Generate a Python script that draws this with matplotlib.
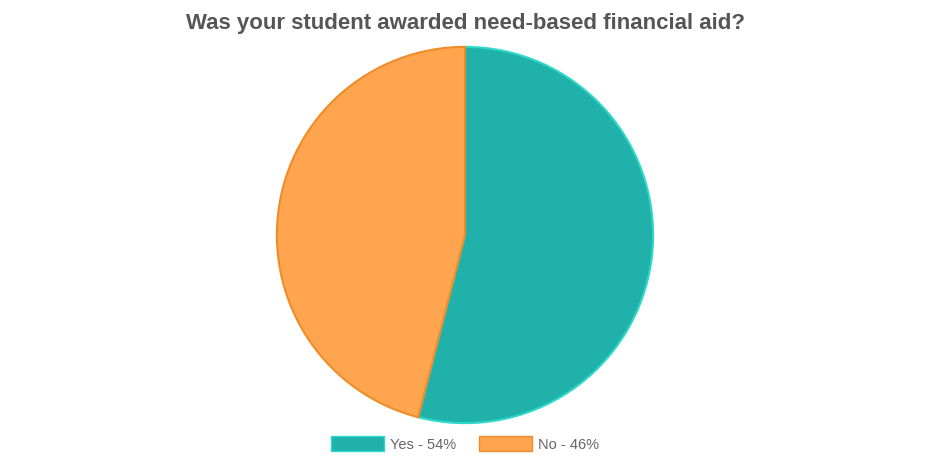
import matplotlib.pyplot as plt
from matplotlib.patches import Patch

plt.rcParams['font.family'] = ['Liberation Sans', 'DejaVu Sans']

labels = ['Yes - 54%', 'No - 46%']
values = [54, 46]
colors = ['#20B2AA', '#FFA54F']
edges = ['#2ED9C9', '#F08C28']

fig = plt.figure(figsize=(9.3, 4.65), dpi=100)
ax = fig.add_axes([275 / 930, 40 / 465, 380 / 930, 380 / 465])

wedges, _ = ax.pie(values, colors=colors, startangle=90, counterclock=False,
                   wedgeprops={'linewidth': 1.5})
for w, e in zip(wedges, edges):
    w.set_edgecolor(e)
ax.set_xlim(-1.01, 1.01)
ax.set_ylim(-1.01, 1.01)
ax.set_aspect('equal')
ax.axis('off')

fig.text(0.5, 1 - 23 / 465, 'Was your student awarded need-based financial aid?',
         ha='center', va='center', fontsize=16, fontweight='bold', color='#555555')

handles = [Patch(facecolor=c, edgecolor=e, linewidth=1) for c, e in zip(colors, edges)]
fig.legend(handles, labels, loc='center', bbox_to_anchor=(0.5, 1 - 444 / 465),
           ncol=2, frameon=False, fontsize=10.5, labelcolor='#666666',
           handlelength=3.6, handleheight=1.2, handletextpad=0.4, columnspacing=1.6)

fig.savefig('out.png', dpi=100, facecolor='white')
